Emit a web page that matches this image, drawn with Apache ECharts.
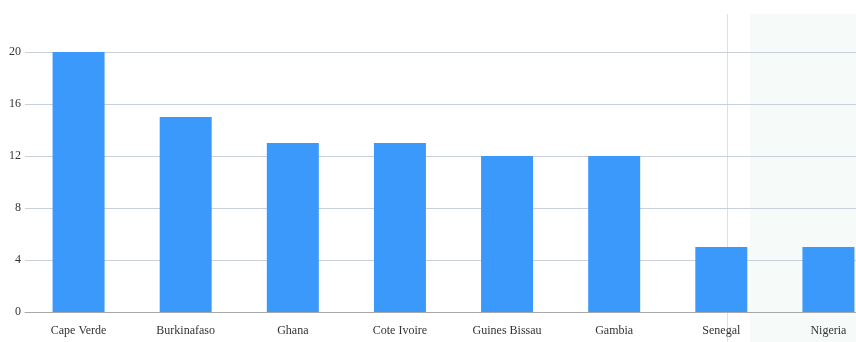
<!DOCTYPE html>
<html>
<head>
<meta charset="utf-8">
<script src="https://cdn.jsdelivr.net/npm/echarts@6/dist/echarts.min.js"></script>
<style>
html, body { margin: 0; padding: 0; background: #fff; }
#main { width: 856px; height: 342px; }
</style>
</head>
<body>
<div id="main"></div>
<script>
var countries = ["Cape Verde", "Burkinafaso", "Ghana", "Cote Ivoire", "Guines Bissau", "Gambia", "Senegal", "Nigeria"];
var counts = [20, 15, 13, 13, 12, 12, 5, 5];

var serif = "'Liberation Serif', 'Times New Roman', serif";
var chart = echarts.init(document.getElementById("main"));
var option = {
    animation: false,
    textStyle: { fontFamily: serif },
    graphic: [
        // hover highlight left in the picture
        {
            type: "rect",
            z: -10,
            shape: { x: 750, y: 14, width: 106, height: 328 },
            style: { fill: "#f6fbf9" }
        },
        {
            type: "line",
            z: -9,
            shape: { x1: 727.5, y1: 14, x2: 727.5, y2: 342 },
            style: { stroke: "#dde1e6", lineWidth: 1 }
        }
    ],
    grid: { left: 25, width: 857, top: 52, bottom: 30, outerBoundsMode: "none", containLabel: false },
    xAxis: {
        type: "category",
        data: countries,
        axisLine: { lineStyle: { color: "#a8a8a8" } },
        axisTick: { alignWithLabel: true, length: 4, lineStyle: { color: "#d8d8d8" } },
        axisLabel: { color: "#333", fontSize: 12, margin: 13, interval: 0, fontFamily: serif }
    },
    yAxis: {
        type: "value",
        min: 0,
        max: 20,
        interval: 4,
        axisLine: { show: false },
        axisTick: { show: false },
        axisLabel: { color: "#333", fontSize: 12, margin: 4, fontFamily: serif },
        splitLine: { lineStyle: { color: "#c9d0dc" } }
    },
    series: [
        {
            type: "bar",
            data: counts,
            barWidth: 52,
            itemStyle: { color: "#3a99fb" }
        }
    ]
};
chart.setOption(option);
</script>
</body>
</html>
